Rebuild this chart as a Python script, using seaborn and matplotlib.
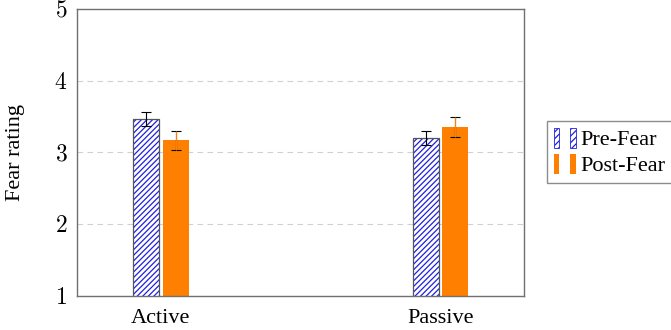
import matplotlib
matplotlib.use("Agg")
import matplotlib.pyplot as plt
import numpy as np
import pandas as pd
import seaborn as sns
from matplotlib.patches import Patch, Rectangle
from matplotlib.legend_handler import HandlerTuple

# values
groups = ["Active", "Passive"]
conditions = ["Pre-Fear", "Post-Fear"]
pre_fear = [3.47, 3.20]
post_fear = [3.17, 3.36]
pre_err = [0.10, 0.10]
post_err = [0.13, 0.14]

ORANGE = "#FF8000"
BLUE = "#2020E0"

df = pd.DataFrame({
    "group": groups * 2,
    "condition": [conditions[0]] * 2 + [conditions[1]] * 2,
    "rating": pre_fear + post_fear,
    "err": pre_err + post_err,
})

sns.set_theme(style="white")
plt.rcParams["font.family"] = ["Liberation Serif", "DejaVu Serif"]
plt.rcParams["mathtext.fontset"] = "cm"
plt.rcParams["hatch.linewidth"] = 0.9
for k in ["text.color", "axes.labelcolor", "xtick.color", "ytick.color"]:
    plt.rcParams[k] = "black"

fig = plt.figure(figsize=(6.71, 3.30), dpi=100)
ax = fig.add_axes([0.115, 0.103, 0.666, 0.870])

sns.barplot(data=df, x="group", y="rating", hue="condition",
            order=groups, hue_order=conditions,
            palette={"Pre-Fear": "white", "Post-Fear": ORANGE},
            width=0.21, gap=0.12, errorbar=None, legend=False, ax=ax)

pre_bars, post_bars = ax.containers[0], ax.containers[1]
for p in pre_bars:
    p.set_facecolor("white")
    p.set_edgecolor(BLUE)
    p.set_hatch("//////")
    p.set_linewidth(0)
    ax.add_patch(Rectangle(p.get_xy(), p.get_width(), p.get_height(),
                           fill=False, edgecolor="#555555", lw=0.9, zorder=3))
for p in post_bars:
    p.set_facecolor(ORANGE)
    p.set_edgecolor(ORANGE)
    p.set_linewidth(0)

def centers(bars):
    return [p.get_x() + p.get_width() / 2 for p in bars]

ax.errorbar(centers(pre_bars), pre_fear, yerr=pre_err, fmt="none",
            ecolor="black", elinewidth=0.8, capsize=3.5, capthick=0.8, zorder=4)
ax.errorbar(centers(post_bars), post_fear, yerr=post_err, fmt="none",
            ecolor="black", elinewidth=0.8, capsize=3.5, capthick=0.8, zorder=4)
ax.errorbar(centers(post_bars), post_fear, yerr=post_err, fmt="none",
            ecolor=ORANGE, elinewidth=0.8, capsize=0, zorder=4)

ax.set_ylim(1, 5)
ax.set_xlim(-0.3, 1.3)
ax.set_yticks([1, 2, 3, 4, 5])
ax.set_yticklabels([f"${v}$" for v in [1, 2, 3, 4, 5]], fontsize=17)
ax.tick_params(axis="x", labelsize=16, length=0, pad=9)
ax.tick_params(axis="y", length=0, pad=7)
for v in [2, 3, 4]:
    ax.axhline(v, color="#d0d0d0", lw=0.8, ls=(0, (5, 4)), zorder=0)
for s in ax.spines.values():
    s.set_color("#707070")
    s.set_linewidth(1.0)
ax.set_xlabel("")
ax.set_ylabel("Fear rating", fontsize=16, labelpad=21)

pre_h = Patch(facecolor="white", edgecolor=BLUE, hatch="/////", lw=0.6)
post_h = Patch(facecolor=ORANGE, edgecolor=ORANGE, lw=0)
leg = fig.legend([(pre_h, pre_h), (post_h, post_h)], conditions,
                 handler_map={tuple: HandlerTuple(ndivide=None, pad=0.5)},
                 loc="center left", bbox_to_anchor=(0.815, 0.539), fontsize=16,
                 frameon=True, fancybox=False, edgecolor="#707070",
                 handlelength=1.0, handleheight=1.0, handletextpad=0.2,
                 borderpad=0.3, borderaxespad=0, labelspacing=0.15)
leg.get_frame().set_linewidth(1.0)

fig.savefig("out.png", dpi=100)
